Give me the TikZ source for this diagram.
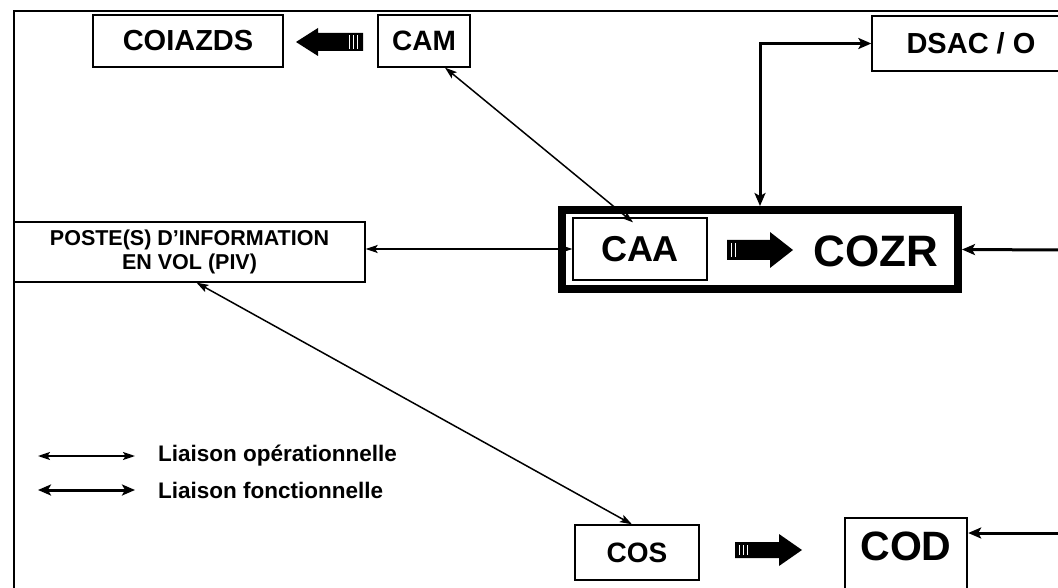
\documentclass[tikz,border=0pt]{standalone}
\usepackage{fontspec}
\setmainfont{Liberation Sans}
\usetikzlibrary{arrows.meta}

\newcommand{\fsz}[1]{\fontsize{#1}{#1}\selectfont\bfseries}

\tikzset{
  box/.style={draw=black, line width=1.3pt, fill=white, inner sep=0pt, align=center},
  optip/.tip={Stealth[length=12pt,width=8pt,inset=2.5pt]},
  fntip/.tip={Stealth[length=13pt,width=11pt,inset=3pt]},
  oplink/.style={line width=1.5pt, optip-optip},
  fnlink/.style={line width=3pt, fntip-fntip},
  fnin/.style={line width=3pt, -fntip},
  legendtext/.style={anchor=west, inner sep=0pt, font=\fsz{22.5}},
  tailmark/.style={white, line width=0.6pt}
}

\begin{document}
\begin{tikzpicture}[x=1pt,y=-1pt]
  \useasboundingbox (0,0) rectangle (1058,588);
  \clip (0,0) rectangle (1058,588);

  % outer frame (top and left edges)
  \draw[line width=2pt] (14,588) -- (14,11) -- (1060,11);

  % top row
  \node[box, minimum width=190pt, minimum height=52pt, font=\fsz{29}] (coiazds) at (188,41) {COIAZDS};
  \node[box, minimum width=92pt, minimum height=52pt, font=\fsz{28}] (cam) at (424,41) {CAM};
  \node[box, minimum width=198pt, minimum height=55pt, font=\fsz{29}] (dsac) at (971,43.5) {DSAC / O};

  % CAM -> COIAZDS block arrow (pointing left)
  \fill[black] (363,33) -- (318,33) -- (318,28) -- (296,42) -- (318,56) -- (318,51) -- (363,51) -- cycle;
  \draw[tailmark] (349,35) -- (349,49) (353,35) -- (353,49) (357,35) -- (357,49);

  % central command box
  \node[box, line width=8pt, minimum width=396pt, minimum height=79pt] (cozr) at (760,249.5) {};
  \node[box, minimum width=134pt, minimum height=62pt, font=\fsz{36}] (caa) at (640,249) {CAA};
  \node[inner sep=0pt, font=\fsz{44}] (cozrtext) at (876,251) {COZR};

  % CAA -> COZR block arrow
  \fill[black] (727,240) -- (770,240) -- (770,232) -- (793,250) -- (770,268) -- (770,260) -- (727,260) -- cycle;
  \draw[tailmark] (731,243) -- (731,257) (735,243) -- (735,257);

  % flight information post
  \node[box, minimum width=351pt, minimum height=60pt, font=\fsz{21.5}] (piv) at (189.5,252)
    {POSTE(S) D'INFORMATION\\[3pt]EN VOL (PIV)};

  % bottom row
  \node[box, minimum width=124pt, minimum height=55pt, font=\fsz{28}] (cos) at (637,552.5) {COS};
  \node[box, line width=2.4pt, minimum width=122pt, minimum height=110pt, anchor=north] (cod) at (906,517) {};
  \node[inner sep=0pt, font=\fsz{41}] (codtext) at (906,546) {COD};

  % COS -> COD block arrow
  \fill[black] (735,542) -- (779,542) -- (779,534) -- (802,550) -- (779,566) -- (779,558) -- (735,558) -- cycle;
  \draw[tailmark] (739,545) -- (739,555) (743,545) -- (743,555) (747,545) -- (747,555);

  % links
  \draw[oplink] ([xshift=21pt]cam.south) -- ([xshift=-7pt,yshift=-5pt]caa.north);
  \draw[oplink] (caa.west) -- (caa.west -| piv.east);
  \draw[oplink] ([xshift=7pt]piv.south) -- ([xshift=-5pt]cos.north);
  \draw[fnlink] (cozr.north) |- (dsac.west);

  \coordinate (eastin) at (1062,250);
  \draw[fnin] (eastin) -- (cozr.east);
  \coordinate (codin) at (1062,533);
  \draw[fnin] (codin) -- (codin -| cod.east);

  % legend
  \coordinate (lo1) at (38,456);
  \coordinate (lo2) at (135,456);
  \coordinate (lf1) at (38,490);
  \coordinate (lf2) at (135,490);
  \draw[oplink] (lo1) -- (lo2);
  \draw[fnlink] (lf1) -- (lf2);
  \node[legendtext] (lotext) at (158,456) {Liaison opérationnelle};
  \node[legendtext] (lftext) at (158,490) {Liaison fonctionnelle};
\end{tikzpicture}
\end{document}
